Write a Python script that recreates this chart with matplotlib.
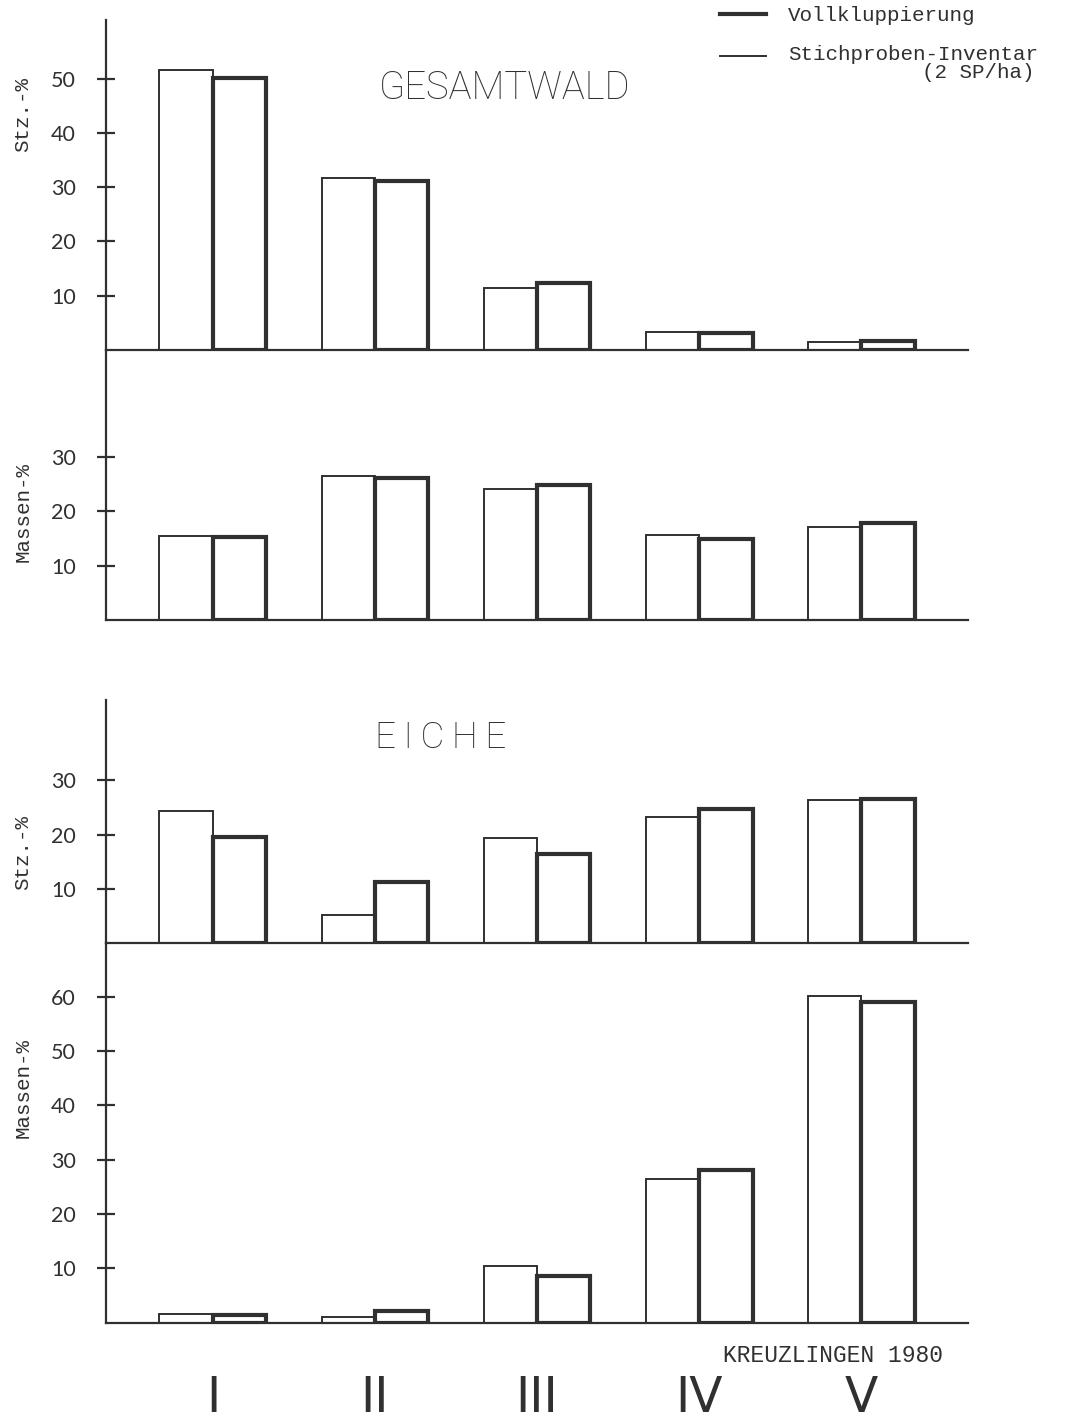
import matplotlib
matplotlib.use("Agg")
import matplotlib.pyplot as plt
from matplotlib.lines import Line2D

# classes (Stärkeklassen)
categories = ["I", "II", "III", "IV", "V"]

# Gesamtwald
gesamt_stz_stich = [51.5, 31.6, 11.5, 3.4, 1.4]
gesamt_stz_voll = [50.1, 31.2, 12.3, 3.1, 1.6]
gesamt_mass_stich = [15.5, 26.5, 24.2, 15.6, 17.2]
gesamt_mass_voll = [15.2, 26.1, 24.8, 15.0, 17.9]

# Eiche
eiche_stz_stich = [24.4, 5.3, 19.4, 23.3, 26.3]
eiche_stz_voll = [19.6, 11.3, 16.4, 24.7, 26.6]
eiche_mass_stich = [1.5, 1.1, 10.4, 26.5, 60.1]
eiche_mass_voll = [1.3, 2.1, 8.6, 28.0, 59.0]

W, H = 1069, 1420
INK = "#303030"
MONO = "Liberation Mono"
LETTER = ["Lato", "DejaVu Sans"]
TITLE = ["Roboto", "DejaVu Sans"]


def fx(px):
    return px / W


def fy(py):
    return 1 - py / H


def make_axes(fig, top, bottom, ymax, yticks):
    left, right = 105.7, 968
    ax = fig.add_axes([fx(left), fy(bottom), fx(right - left), (bottom - top) / H])
    ax.set_xlim(-0.662, 4.66)
    ax.set_ylim(0, ymax)
    for s in ("top", "right"):
        ax.spines[s].set_visible(False)
    for s in ("left", "bottom"):
        ax.spines[s].set_linewidth(1.6)
        ax.spines[s].set_color(INK)
    ax.set_yticks(yticks)
    ax.set_yticklabels([str(t) for t in yticks], fontfamily=LETTER,
                       fontsize=15.5, color=INK)
    ax.tick_params(axis="y", direction="inout", length=13, width=1.6, color=INK, pad=15)
    ax.set_xticks([])
    ax.patch.set_alpha(0)
    return ax


def draw_pairs(ax, stich, voll):
    x = range(len(categories))
    w = 0.33
    ax.bar(x, stich, width=-w, align="edge", facecolor="white", edgecolor=INK, linewidth=1.4)
    ax.bar(x, voll, width=w, align="edge", facecolor="white", edgecolor=INK, linewidth=3.0)


fig = plt.figure(figsize=(W / 100, H / 100), dpi=100)

ax1 = make_axes(fig, 20, 350, 60.8, [10, 20, 30, 40, 50])
ax2 = make_axes(fig, 350, 620, 49.7, [10, 20, 30])
ax3 = make_axes(fig, 700, 943.3, 44.8, [10, 20, 30])
ax4 = make_axes(fig, 943.3, 1322.5, 69.8, [10, 20, 30, 40, 50, 60])

draw_pairs(ax1, gesamt_stz_stich, gesamt_stz_voll)
draw_pairs(ax2, gesamt_mass_stich, gesamt_mass_voll)
draw_pairs(ax3, eiche_stz_stich, eiche_stz_voll)
draw_pairs(ax4, eiche_mass_stich, eiche_mass_voll)

# roman numerals under the last panel
ax4.set_xticks(range(len(categories)))
ax4.set_xticklabels(categories, fontfamily=["Liberation Sans Narrow", "DejaVu Sans"],
                    fontsize=35, color=INK)
ax4.tick_params(axis="x", length=0, pad=37)

# y labels
for text, py in [("Stz.-%", 114), ("Massen-%", 512), ("Stz.-%", 853), ("Massen-%", 1088)]:
    fig.text(fx(23), fy(py), text, rotation=90, ha="center", va="center",
             fontfamily=MONO, fontsize=15, color=INK)

# panel titles
fig.text(fx(379), fy(88), "GESAMTWALD", ha="left", va="center",
         fontfamily=TITLE, fontweight="light", fontsize=27.5, color=INK)
fig.text(fx(375), fy(738), "E\u2009I\u2009C\u2009H\u2009E", ha="left", va="center",
         fontfamily=TITLE, fontweight="light", fontsize=26.5, color=INK)

# legend
fig.add_artist(Line2D([fx(720), fx(766)], [fy(14), fy(14)], transform=fig.transFigure,
                      color=INK, linewidth=3.0))
fig.add_artist(Line2D([fx(720), fx(766)], [fy(56), fy(56)], transform=fig.transFigure,
                      color=INK, linewidth=1.4))
fig.text(fx(788), fy(21), "Vollkluppierung", ha="left", va="baseline",
         fontfamily=MONO, fontsize=15, color=INK)
fig.text(fx(788), fy(60), "Stichproben-Inventar", ha="left", va="baseline",
         fontfamily=MONO, fontsize=15, color=INK)
fig.text(fx(1034), fy(78), "(2 SP/ha)", ha="right", va="baseline",
         fontfamily=MONO, fontsize=15, color=INK)

fig.text(fx(723), fy(1355), "KREUZLINGEN 1980", ha="left", va="center",
         fontfamily=MONO, fontsize=16.5, color=INK)

fig.savefig("out.png", dpi=100, facecolor="white")
